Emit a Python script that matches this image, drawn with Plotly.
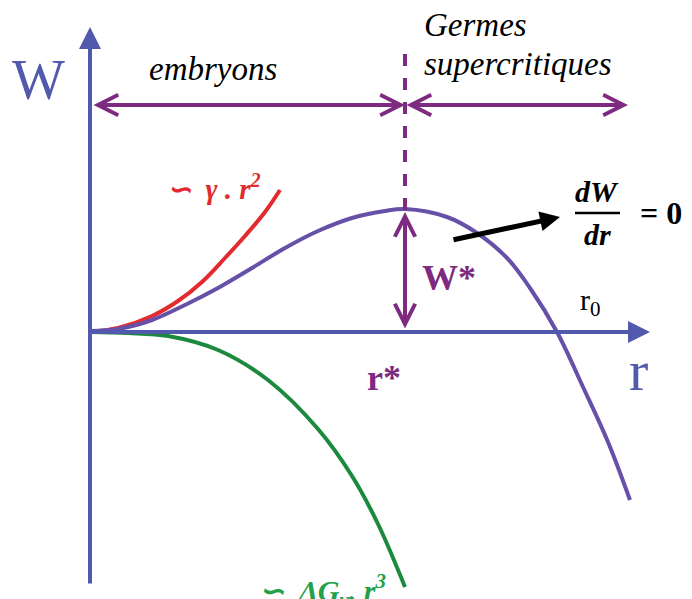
import plotly.graph_objects as go

# curve samples (r, W) with origin at the axes crossing
r_total = [0, 28, 62, 95, 128, 162, 195, 228, 262, 295, 315, 357, 387, 417, 440, 467, 493, 518, 540]
w_total = [1, 3, 12, 27, 44, 64, 84, 101, 114, 121, 123, 115, 99, 74, 44, 0, -55, -110, -168]

r_surf = [0, 28, 62, 88, 112, 135, 155, 175, 190]
w_surf = [0, 4, 16, 31, 50, 74, 96, 120, 142]

r_vol = [0, 38, 78, 128, 178, 228, 262, 288, 315]
w_vol = [0, -1, -4, -18, -48, -97, -144, -192, -255]

r_star = 315
w_star = 122

AXIS = "#5159ad"
CURVE = "#6650a8"
ARROW = "#7d2a80"
RED = "#e32b2f"
GREEN = "#1b8a3e"
SERIF = "Liberation Serif"

fig = go.Figure()
fig.add_trace(go.Scatter(x=r_vol, y=w_vol, mode="lines", line=dict(color=GREEN, width=4, shape="spline")))
fig.add_trace(go.Scatter(x=r_surf, y=w_surf, mode="lines", line=dict(color=RED, width=4, shape="spline")))
fig.add_trace(go.Scatter(x=r_total, y=w_total, mode="lines", line=dict(color=CURVE, width=4, shape="spline")))


def arrow(x0, y0, x1, y1, color, width, head, size, both=False):
    fig.add_annotation(x=x1, y=y1, ax=x0, ay=y0, xref="x", yref="y", axref="x", ayref="y",
                       text="", showarrow=True, arrowcolor=color, arrowwidth=width,
                       arrowhead=head, arrowsize=size,
                       arrowside="end+start" if both else "end",
                       startarrowhead=head, startarrowsize=size)


def label(x, y, txt, size, color="black", bold=False, italic=False, family=SERIF):
    fig.add_annotation(x=x, y=y, xref="x", yref="y", text=txt, showarrow=False,
                       font=dict(family=family, size=size, color=color,
                                 weight="bold" if bold else "normal",
                                 style="italic" if italic else "normal"))


# axes
arrow(0, 0, 560, 0, AXIS, 4, 2, 1.1)
arrow(0, -253, 0, 305, AXIS, 4, 2, 1.1)

# critical radius marks
fig.add_shape(type="line", x0=r_star, x1=r_star, y0=w_star, y1=280,
              line=dict(color=ARROW, width=4, dash="dash"))
arrow(2, 227, r_star, 227, ARROW, 4, 5, 1, both=True)
arrow(r_star, 227, 538, 227, ARROW, 4, 5, 1, both=True)
arrow(r_star, 2, r_star, w_star - 2, ARROW, 4, 5, 1, both=True)

# dW/dr pointer
arrow(362, 92, 470, 115, "black", 5, 2, 0.8)
fig.add_shape(type="line", x0=485, x1=530, y0=119, y1=119, line=dict(color="black", width=2.5))

label(-52, 252, "W", 56, AXIS)
label(548, -38, "r", 58, AXIS)
label(123, 263, "embryons", 33, italic=True)
label(385, 307, "Germes", 33, italic=True)
label(428, 268, "supercritiques", 33, italic=True)
label(124, 145, "∽&nbsp;&nbsp;γ&nbsp;.&nbsp;r<sup>2</sup>", 29, RED, bold=True, italic=True)
label(232, -258, "∽&nbsp;&nbsp;ΔG<sub>v</sub>.&nbsp;r<sup>3</sup>", 30, "#22a04a", bold=True, italic=True)
label(507, 141, "dW", 30, bold=True, italic=True)
label(507, 98, "dr", 30, bold=True, italic=True)
label(571, 119, "=&nbsp;0", 32, bold=True)
label(359, 54, "W*", 36, ARROW, bold=True)
label(294, -46, "r*", 36, ARROW, bold=True)
label(500, 30, "r<sub>0</sub>", 30)

# the page body adds an 8px margin, so the figure is 8px smaller and the ranges start 8px in
fig.update_layout(width=684, height=591, margin=dict(l=0, r=0, t=0, b=0),
                  plot_bgcolor="white", paper_bgcolor="white", showlegend=False,
                  xaxis=dict(range=[-82, 602], visible=False),
                  yaxis=dict(range=[-267, 324], visible=False))

fig.write_html("out.html")
